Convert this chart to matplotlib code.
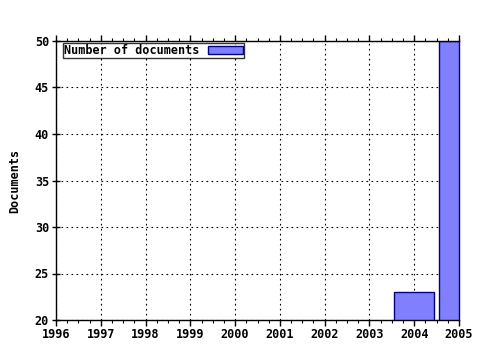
import matplotlib
import matplotlib.pyplot as plt
from matplotlib.ticker import MultipleLocator

matplotlib.use('Agg')

years = [2004, 2005]
documents = [23, 50]
year_ticks = list(range(1996, 2006))
doc_ticks = [20, 25, 30, 35, 40, 45, 50]

plt.rcParams['font.family'] = 'DejaVu Sans Mono'
plt.rcParams['font.weight'] = 'bold'
plt.rcParams['font.size'] = 8.5

fig = plt.figure(figsize=(4.8, 3.5), dpi=100)
ax = fig.add_axes([56 / 480, 1 - 320 / 350, 403 / 480, 279 / 350])

ax.bar(years, documents, width=0.9, color='#8080ff', edgecolor='#000080',
       linewidth=1, label='Number of documents', zorder=2)

ax.set_xlim(1996, 2005)
ax.set_ylim(20, 50)
ax.set_xticks(year_ticks)
ax.set_yticks(doc_ticks)
ax.xaxis.set_minor_locator(MultipleLocator(0.25))
ax.grid(True, which='major', color='black', linestyle=(0, (1.5, 3)), linewidth=0.8)
ax.set_axisbelow(True)

ax.tick_params(which='major', direction='out', length=4, width=1, top=True, labeltop=False, pad=2)
ax.tick_params(which='minor', direction='out', length=2, width=0.8, top=True)
ax.tick_params(axis='y', which='major', direction='inout', length=6)
ax.spines['right'].set_color('#000080')
ax.spines['right'].set_zorder(3)
for side in ['left', 'bottom', 'top', 'right']:
    ax.spines[side].set_linewidth(1)

ax.set_ylabel('Documents', fontsize=8.5, fontweight='bold', labelpad=10)

leg = ax.legend(loc='upper left', bbox_to_anchor=(7 / 403, 1 - 2 / 279), markerfirst=False,
                frameon=True, fancybox=False, borderpad=0.1, handlelength=3.0,
                handleheight=0.6, handletextpad=0.7, borderaxespad=0, fontsize=8.5)
leg.get_frame().set_edgecolor('black')
leg.get_frame().set_linewidth(1)

plt.savefig('out.png', dpi=100)
plt.close()
